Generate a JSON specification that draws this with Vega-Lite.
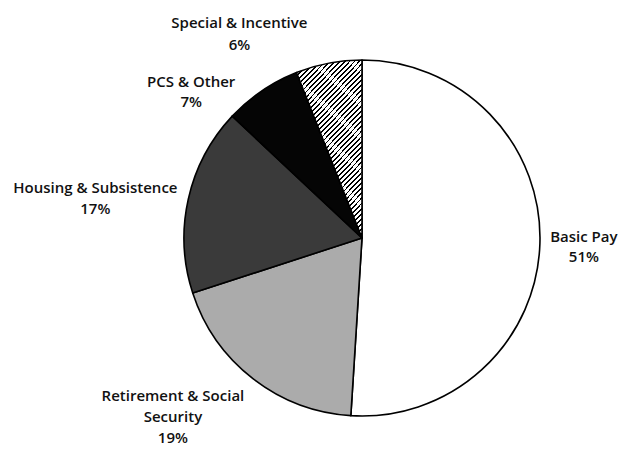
{
  "$schema": "https://vega.github.io/schema/vega-lite/v6.json",
  "width": 512,
  "height": 422,
  "padding": {"left": 106, "top": 27, "right": 0, "bottom": 0},
  "autosize": {"type": "none"},
  "background": "white",
  "config": {"view": {"stroke": null}},
  "data": {
    "values": [
      {"idx": 1, "cat": "Basic Pay", "value": 51, "label": ["Basic Pay", "51%"]},
      {"idx": 2, "cat": "Retirement & Social Security", "value": 19, "label": ["Retirement & Social", "Security", "19%"]},
      {"idx": 3, "cat": "Housing & Subsistence", "value": 17, "label": ["Housing & Subsistence", "17%"]},
      {"idx": 4, "cat": "PCS & Other", "value": 7, "label": ["PCS & Other", "7%"]},
      {"idx": 5, "cat": "Special & Incentive", "value": 6, "label": ["Special & Incentive", "6%"]}
    ]
  },
  "encoding": {
    "theta": {"field": "value", "type": "quantitative", "stack": true},
    "order": {"field": "idx", "type": "quantitative", "sort": "ascending"}
  },
  "layer": [
    {
      "mark": {"type": "arc", "radius": 178, "stroke": "black", "strokeWidth": 1.6, "strokeJoin": "round"},
      "encoding": {
        "fill": {
          "condition": {
            "test": "datum.cat === 'Special & Incentive'",
            "value": {
              "gradient": "linear", "x1": 0, "y1": 0, "x2": 0.47, "y2": 1.207,
              "stops": [
                {"offset": 0, "color": "black"}, {"offset": 0.0075, "color": "black"}, {"offset": 0.0075, "color": "white"}, {"offset": 0.02083, "color": "white"},
                {"offset": 0.02083, "color": "black"}, {"offset": 0.02833, "color": "black"}, {"offset": 0.02833, "color": "white"}, {"offset": 0.04167, "color": "white"},
                {"offset": 0.04167, "color": "black"}, {"offset": 0.04917, "color": "black"}, {"offset": 0.04917, "color": "white"}, {"offset": 0.0625, "color": "white"},
                {"offset": 0.0625, "color": "black"}, {"offset": 0.07, "color": "black"}, {"offset": 0.07, "color": "white"}, {"offset": 0.08333, "color": "white"},
                {"offset": 0.08333, "color": "black"}, {"offset": 0.09083, "color": "black"}, {"offset": 0.09083, "color": "white"}, {"offset": 0.10417, "color": "white"},
                {"offset": 0.10417, "color": "black"}, {"offset": 0.11167, "color": "black"}, {"offset": 0.11167, "color": "white"}, {"offset": 0.125, "color": "white"},
                {"offset": 0.125, "color": "black"}, {"offset": 0.1325, "color": "black"}, {"offset": 0.1325, "color": "white"}, {"offset": 0.14583, "color": "white"},
                {"offset": 0.14583, "color": "black"}, {"offset": 0.15333, "color": "black"}, {"offset": 0.15333, "color": "white"}, {"offset": 0.16667, "color": "white"},
                {"offset": 0.16667, "color": "black"}, {"offset": 0.17417, "color": "black"}, {"offset": 0.17417, "color": "white"}, {"offset": 0.1875, "color": "white"},
                {"offset": 0.1875, "color": "black"}, {"offset": 0.195, "color": "black"}, {"offset": 0.195, "color": "white"}, {"offset": 0.20833, "color": "white"},
                {"offset": 0.20833, "color": "black"}, {"offset": 0.21583, "color": "black"}, {"offset": 0.21583, "color": "white"}, {"offset": 0.22917, "color": "white"},
                {"offset": 0.22917, "color": "black"}, {"offset": 0.23667, "color": "black"}, {"offset": 0.23667, "color": "white"}, {"offset": 0.25, "color": "white"},
                {"offset": 0.25, "color": "black"}, {"offset": 0.2575, "color": "black"}, {"offset": 0.2575, "color": "white"}, {"offset": 0.27083, "color": "white"},
                {"offset": 0.27083, "color": "black"}, {"offset": 0.27833, "color": "black"}, {"offset": 0.27833, "color": "white"}, {"offset": 0.29167, "color": "white"},
                {"offset": 0.29167, "color": "black"}, {"offset": 0.29917, "color": "black"}, {"offset": 0.29917, "color": "white"}, {"offset": 0.3125, "color": "white"},
                {"offset": 0.3125, "color": "black"}, {"offset": 0.32, "color": "black"}, {"offset": 0.32, "color": "white"}, {"offset": 0.33333, "color": "white"},
                {"offset": 0.33333, "color": "black"}, {"offset": 0.34083, "color": "black"}, {"offset": 0.34083, "color": "white"}, {"offset": 0.35417, "color": "white"},
                {"offset": 0.35417, "color": "black"}, {"offset": 0.36167, "color": "black"}, {"offset": 0.36167, "color": "white"}, {"offset": 0.375, "color": "white"},
                {"offset": 0.375, "color": "black"}, {"offset": 0.3825, "color": "black"}, {"offset": 0.3825, "color": "white"}, {"offset": 0.39583, "color": "white"},
                {"offset": 0.39583, "color": "black"}, {"offset": 0.40333, "color": "black"}, {"offset": 0.40333, "color": "white"}, {"offset": 0.41667, "color": "white"},
                {"offset": 0.41667, "color": "black"}, {"offset": 0.42417, "color": "black"}, {"offset": 0.42417, "color": "white"}, {"offset": 0.4375, "color": "white"},
                {"offset": 0.4375, "color": "black"}, {"offset": 0.445, "color": "black"}, {"offset": 0.445, "color": "white"}, {"offset": 0.45833, "color": "white"},
                {"offset": 0.45833, "color": "black"}, {"offset": 0.46583, "color": "black"}, {"offset": 0.46583, "color": "white"}, {"offset": 0.47917, "color": "white"},
                {"offset": 0.47917, "color": "black"}, {"offset": 0.48667, "color": "black"}, {"offset": 0.48667, "color": "white"}, {"offset": 0.5, "color": "white"},
                {"offset": 0.5, "color": "black"}, {"offset": 0.5075, "color": "black"}, {"offset": 0.5075, "color": "white"}, {"offset": 0.52083, "color": "white"},
                {"offset": 0.52083, "color": "black"}, {"offset": 0.52833, "color": "black"}, {"offset": 0.52833, "color": "white"}, {"offset": 0.54167, "color": "white"},
                {"offset": 0.54167, "color": "black"}, {"offset": 0.54917, "color": "black"}, {"offset": 0.54917, "color": "white"}, {"offset": 0.5625, "color": "white"},
                {"offset": 0.5625, "color": "black"}, {"offset": 0.57, "color": "black"}, {"offset": 0.57, "color": "white"}, {"offset": 0.58333, "color": "white"},
                {"offset": 0.58333, "color": "black"}, {"offset": 0.59083, "color": "black"}, {"offset": 0.59083, "color": "white"}, {"offset": 0.60417, "color": "white"},
                {"offset": 0.60417, "color": "black"}, {"offset": 0.61167, "color": "black"}, {"offset": 0.61167, "color": "white"}, {"offset": 0.625, "color": "white"},
                {"offset": 0.625, "color": "black"}, {"offset": 0.6325, "color": "black"}, {"offset": 0.6325, "color": "white"}, {"offset": 0.64583, "color": "white"},
                {"offset": 0.64583, "color": "black"}, {"offset": 0.65333, "color": "black"}, {"offset": 0.65333, "color": "white"}, {"offset": 0.66667, "color": "white"},
                {"offset": 0.66667, "color": "black"}, {"offset": 0.67417, "color": "black"}, {"offset": 0.67417, "color": "white"}, {"offset": 0.6875, "color": "white"},
                {"offset": 0.6875, "color": "black"}, {"offset": 0.695, "color": "black"}, {"offset": 0.695, "color": "white"}, {"offset": 0.70833, "color": "white"},
                {"offset": 0.70833, "color": "black"}, {"offset": 0.71583, "color": "black"}, {"offset": 0.71583, "color": "white"}, {"offset": 0.72917, "color": "white"},
                {"offset": 0.72917, "color": "black"}, {"offset": 0.73667, "color": "black"}, {"offset": 0.73667, "color": "white"}, {"offset": 0.75, "color": "white"},
                {"offset": 0.75, "color": "black"}, {"offset": 0.7575, "color": "black"}, {"offset": 0.7575, "color": "white"}, {"offset": 0.77083, "color": "white"},
                {"offset": 0.77083, "color": "black"}, {"offset": 0.77833, "color": "black"}, {"offset": 0.77833, "color": "white"}, {"offset": 0.79167, "color": "white"},
                {"offset": 0.79167, "color": "black"}, {"offset": 0.79917, "color": "black"}, {"offset": 0.79917, "color": "white"}, {"offset": 0.8125, "color": "white"},
                {"offset": 0.8125, "color": "black"}, {"offset": 0.82, "color": "black"}, {"offset": 0.82, "color": "white"}, {"offset": 0.83333, "color": "white"},
                {"offset": 0.83333, "color": "black"}, {"offset": 0.84083, "color": "black"}, {"offset": 0.84083, "color": "white"}, {"offset": 0.85417, "color": "white"},
                {"offset": 0.85417, "color": "black"}, {"offset": 0.86167, "color": "black"}, {"offset": 0.86167, "color": "white"}, {"offset": 0.875, "color": "white"},
                {"offset": 0.875, "color": "black"}, {"offset": 0.8825, "color": "black"}, {"offset": 0.8825, "color": "white"}, {"offset": 0.89583, "color": "white"},
                {"offset": 0.89583, "color": "black"}, {"offset": 0.90333, "color": "black"}, {"offset": 0.90333, "color": "white"}, {"offset": 0.91667, "color": "white"},
                {"offset": 0.91667, "color": "black"}, {"offset": 0.92417, "color": "black"}, {"offset": 0.92417, "color": "white"}, {"offset": 0.9375, "color": "white"},
                {"offset": 0.9375, "color": "black"}, {"offset": 0.945, "color": "black"}, {"offset": 0.945, "color": "white"}, {"offset": 0.95833, "color": "white"},
                {"offset": 0.95833, "color": "black"}, {"offset": 0.96583, "color": "black"}, {"offset": 0.96583, "color": "white"}, {"offset": 0.97917, "color": "white"},
                {"offset": 0.97917, "color": "black"}, {"offset": 0.98667, "color": "black"}, {"offset": 0.98667, "color": "white"}, {"offset": 1, "color": "white"}
              ]
            }
          },
          "field": "cat",
          "type": "nominal",
          "scale": {
            "domain": ["Basic Pay", "Retirement & Social Security", "Housing & Subsistence", "PCS & Other", "Special & Incentive"],
            "range": ["#ffffff", "#ababab", "#3a3a3a", "#050505", "#9a9a9a"]
          },
          "legend": null
        }
      }
    },
    {
      "mark": {"type": "text", "radius": 222, "font": "Open Sans", "fontSize": 15, "fontWeight": 600, "color": "#111", "lineHeight": 20, "baseline": "middle", "align": "center", "dx": 0, "dy": -8},
      "encoding": {"text": {"condition": {"test": "datum.cat === 'Basic Pay'", "field": "label"}, "value": ""}}
    },
    {
      "mark": {"type": "text", "radius": 222, "font": "Open Sans", "fontSize": 15, "fontWeight": 600, "color": "#111", "lineHeight": 21, "baseline": "middle", "align": "center", "dx": -53, "dy": -17},
      "encoding": {"text": {"condition": {"test": "datum.cat === 'Retirement & Social Security'", "field": "label"}, "value": ""}}
    },
    {
      "mark": {"type": "text", "radius": 222, "font": "Open Sans", "fontSize": 15, "fontWeight": 600, "color": "#111", "lineHeight": 21, "baseline": "middle", "align": "center", "dx": -50, "dy": -2},
      "encoding": {"text": {"condition": {"test": "datum.cat === 'Housing & Subsistence'", "field": "label"}, "value": ""}}
    },
    {
      "mark": {"type": "text", "radius": 222, "font": "Open Sans", "fontSize": 15, "fontWeight": 600, "color": "#111", "lineHeight": 20, "baseline": "middle", "align": "center", "dx": -46, "dy": 28},
      "encoding": {"text": {"condition": {"test": "datum.cat === 'PCS & Other'", "field": "label"}, "value": ""}}
    },
    {
      "mark": {"type": "text", "radius": 222, "font": "Open Sans", "fontSize": 15, "fontWeight": 600, "color": "#111", "lineHeight": 22, "baseline": "middle", "align": "center", "dx": -81, "dy": 3},
      "encoding": {"text": {"condition": {"test": "datum.cat === 'Special & Incentive'", "field": "label"}, "value": ""}}
    }
  ]
}
